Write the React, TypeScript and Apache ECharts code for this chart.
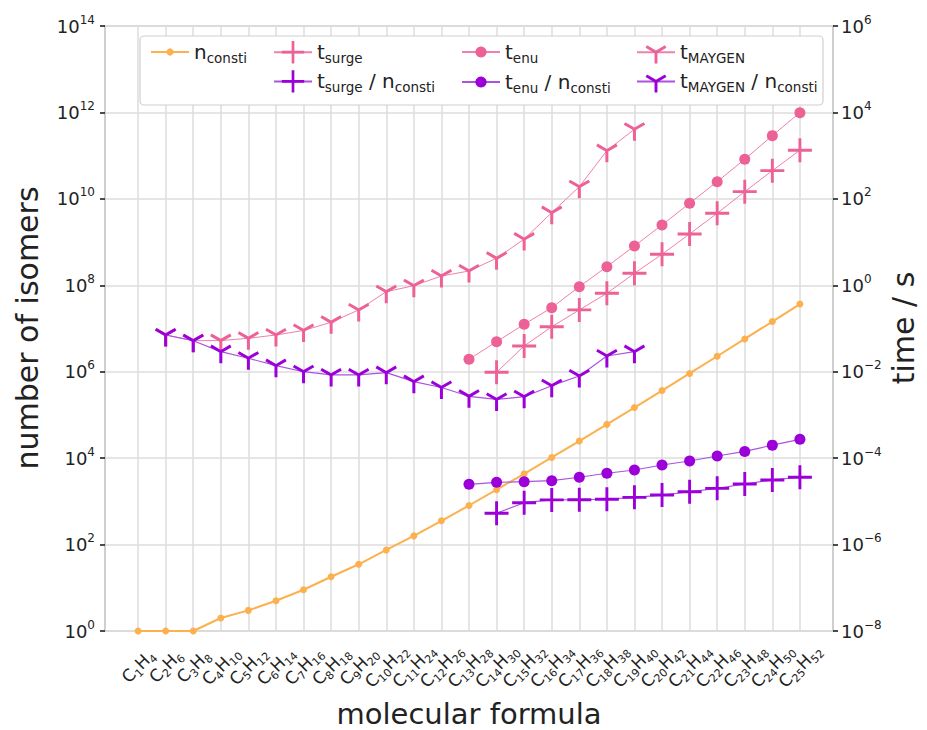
import React, { useEffect, useRef } from 'react';
import * as echarts from 'echarts';

// ---------- data ----------
const categories = ['C1H4', 'C2H6', 'C3H8', 'C4H10', 'C5H12', 'C6H14', 'C7H16', 'C8H18', 'C9H20', 'C10H22', 'C11H24', 'C12H26', 'C13H28', 'C14H30', 'C15H32', 'C16H34', 'C17H36', 'C18H38', 'C19H40', 'C20H42', 'C21H44', 'C22H46', 'C23H48', 'C24H50', 'C25H52'];

// number of constitutional isomers (left axis)
const nConsti = [1, 1, 1, 2, 3, 5, 9, 18, 35, 75, 159, 355, 802, 1858, 4347, 10359, 24894, 60523, 148284, 366319, 910726, 2278658, 5731580, 14490245, 36797588];

// times in seconds (right axis)
const tSurge = [null, null, null, null, null, null, null, null, null, null, null, null, null, 0.0097, 0.0394, 0.11, 0.269, 0.653, 1.9, 5.22, 15.4, 46.4, 147, 450, 1334];
const tSurgePerN = [null, null, null, null, null, null, null, null, null, null, null, null, null, 5.3e-6, 9.31e-6, 1.08e-5, 1.09e-5, 1.12e-5, 1.24e-5, 1.4e-5, 1.67e-5, 2.0e-5, 2.52e-5, 3.13e-5, 3.61e-5];
const tEnu = [null, null, null, null, null, null, null, null, null, null, null, null, 0.0194, 0.0495, 0.125, 0.303, 0.929, 2.7, 8.13, 24.9, 79.1, 250, 826, 2904, 9886];
const tEnuPerN = [null, null, null, null, null, null, null, null, null, null, null, null, 2.48e-5, 2.76e-5, 2.85e-5, 3.01e-5, 3.61e-5, 4.47e-5, 5.32e-5, 6.95e-5, 8.59e-5, 1.12e-4, 1.43e-4, 2.0e-4, 2.73e-4];
const tMaygen = [null, 0.0708, 0.0522, 0.0525, 0.0594, 0.0708, 0.09, 0.139, 0.269, 0.711, 0.979, 1.64, 2.14, 4.22, 11.7, 48.0, 191, 1306, 4083, null, null, null, null, null, null];
const tMaygenPerN = [null, 0.0708, 0.0522, 0.0291, 0.0205, 0.0138, 0.01, 0.00841, 0.00841, 0.00951, 0.00589, 0.00432, 0.0027, 0.00228, 0.00264, 0.00475, 0.00796, 0.0231, 0.0291, null, null, null, null, null, null];

// axis ranges (powers of ten)
const leftRange = [1, 1e14];
const rightRange = [1e-8, 1e6];

// ---------- styling ----------
const FONT = 'DejaVu Sans';
const TXT = '#222222';
const ORANGE = '#fdb04e';
const PINK = '#ec6196';
const PINK_LINE = '#f080aa';
const PURPLE = '#9c00d8';
const PURPLE_LINE = '#ab52e0';

const PLUS = 'path://M44,0H56V44H100V56H56V100H44V56H0V44H44Z';
const TRI = 'path://M43.5,100L56.5,100L56.5,53.75L96.55,30.63L90.05,19.37L50,42.49L9.95,19.37L3.45,30.63L43.5,53.75Z M0,0L0.1,0L0,0.1Z M100,100L99.9,100L100,99.9Z';

const legendText: Record<string, string> = {
  'n_consti': '{m|n}{s|consti}',
  't_surge': '{m|t}{s|surge}',
  't_surge / n_consti': '{m|t}{s|surge}{m| / n}{s|consti}',
  't_enu': '{m|t}{s|enu}',
  't_enu / n_consti': '{m|t}{s|enu}{m| / n}{s|consti}',
  't_MAYGEN': '{m|t}{s|MAYGEN}',
  't_MAYGEN / n_consti': '{m|t}{s|MAYGEN}{m| / n}{s|consti}',
};

const expLabel = (v: number) => {
  const e = Math.round(Math.log10(v));
  return `{b|10}{e|${e < 0 ? '\u2212' + -e : e}}`;
};

const supRich = {
  b: { fontSize: 18, lineHeight: 25, fontFamily: FONT, color: TXT },
  e: { fontSize: 12, verticalAlign: 'top', fontFamily: FONT, color: TXT },
};

const subRich = {
  m: { fontSize: 17, lineHeight: 23, fontFamily: FONT, color: TXT },
  s: { fontSize: 11, verticalAlign: 'bottom', fontFamily: FONT, color: TXT },
};

const legendRich = {
  m: { fontSize: 20, lineHeight: 26, fontFamily: FONT, color: TXT },
  s: { fontSize: 13.5, verticalAlign: 'bottom', fontFamily: FONT, color: TXT },
};

export default function App() {
  const ref = useRef<HTMLDivElement>(null);

  useEffect(() => {
    if (!ref.current) return;
    const chart = echarts.init(ref.current, undefined, { renderer: 'svg' });

    const plotLeft = 105;
    const plotWidth = 728;
    const plotTop = 26;
    const plotHeight = 605;
    const unit = plotWidth / 26.4; // matplotlib 5% x-margin
    const innerLeft = plotLeft + 1.2 * unit;
    const innerWidth = 24 * unit;

    const mk = (name: string, data: (number | null)[], yAxisIndex: number, color: string, lineColor: string, lineWidth: number, symbol: string, symbolSize: number) => ({
      type: 'line',
      name,
      data,
      xAxisIndex: 1,
      yAxisIndex,
      symbol,
      symbolSize,
      showSymbol: true,
      connectNulls: false,
      itemStyle: { color },
      lineStyle: { color: lineColor, width: lineWidth },
      emphasis: { disabled: true },
    });

    const legendBase = {
      orient: 'vertical',
      padding: 0,
      itemWidth: 38,
      selectedMode: false,
      lineStyle: { width: 2 },
      formatter: (n: string) => legendText[n] || n,
      textStyle: { fontFamily: FONT, color: TXT, rich: legendRich },
    };

    chart.setOption({
      animation: false,
      backgroundColor: '#ffffff',
      grid: [
        { left: plotLeft, top: plotTop, width: plotWidth, height: plotHeight, show: true, borderColor: '#cccccc', borderWidth: 1.5, backgroundColor: 'transparent' },
        { left: innerLeft, top: plotTop, width: innerWidth, height: plotHeight },
      ],
      xAxis: [
        { gridIndex: 0, type: 'value', min: 0, max: 1, show: false },
        {
          gridIndex: 1,
          type: 'category',
          data: categories,
          boundaryGap: false,
          axisLine: { show: false },
          axisTick: { show: false, interval: 0 },
          splitLine: { show: true, interval: 0, lineStyle: { color: '#dddddd', width: 1.5 } },
          axisLabel: {
            interval: 0,
            rotate: 45,
            margin: 35,
            align: 'center',
            verticalAlign: 'middle',
            formatter: (s: string) => s.replace(/([A-Z])(\d+)/g, '{m|$1}{s|$2}'),
            rich: subRich,
          },
        },
      ],
      yAxis: [
        {
          gridIndex: 0,
          type: 'log',
          logBase: 10,
          min: leftRange[0],
          max: leftRange[1],
          interval: 2,
          splitNumber: 7,
          position: 'left',
          axisLine: { show: true, lineStyle: { color: '#cccccc', width: 1.5 } },
          axisTick: { show: true, length: 5, lineStyle: { color: '#111111', width: 1.5 } },
          splitLine: { show: true, lineStyle: { color: '#dddddd', width: 1.5 } },
          minorTick: { show: false },
          axisLabel: { margin: 10, formatter: expLabel, rich: supRich },
        },
        {
          gridIndex: 0,
          type: 'log',
          logBase: 10,
          min: rightRange[0],
          max: rightRange[1],
          interval: 2,
          splitNumber: 7,
          position: 'right',
          axisLine: { show: true, lineStyle: { color: '#cccccc', width: 1.5 } },
          axisTick: { show: true, length: 5, lineStyle: { color: '#111111', width: 1.5 } },
          splitLine: { show: false },
          axisLabel: { margin: 8, formatter: expLabel, rich: supRich },
        },
        { gridIndex: 1, type: 'log', logBase: 10, min: leftRange[0], max: leftRange[1], show: false, splitLine: { show: false } },
        { gridIndex: 1, type: 'log', logBase: 10, min: rightRange[0], max: rightRange[1], show: false, splitLine: { show: false } },
      ],
      legend: [
        { ...legendBase, data: ['n_consti'], left: 150, top: 42, itemHeight: 9, itemGap: 7 },
        { ...legendBase, data: ['t_surge', 't_surge / n_consti'], left: 273, top: 41, itemHeight: 28, itemGap: 5 },
        { ...legendBase, data: ['t_enu', 't_enu / n_consti'], left: 461, top: 42, itemHeight: 14, itemGap: 7 },
        { ...legendBase, data: ['t_MAYGEN', 't_MAYGEN / n_consti'], left: 636, top: 41, itemHeight: 28, itemGap: 5 },
      ],
      graphic: [
        { type: 'rect', z: 3, shape: { x: 140, y: 36, width: 683, height: 69, r: 4 }, style: { fill: '#ffffff', stroke: '#cfcfcf', lineWidth: 1.2 } },
        { type: 'text', x: 27, y: 328, rotation: Math.PI / 2, style: { text: 'number of isomers', fontSize: 30, fontFamily: FONT, fill: TXT, align: 'center', verticalAlign: 'middle' } },
        { type: 'text', x: 469, y: 714, style: { text: 'molecular formula', fontSize: 29, fontFamily: FONT, fill: TXT, align: 'center', verticalAlign: 'middle' } },
        { type: 'text', x: 903, y: 328, rotation: Math.PI / 2, style: { text: 'time / s', fontSize: 30, fontFamily: FONT, fill: TXT, align: 'center', verticalAlign: 'middle' } },
      ],
      series: [
        mk('n_consti', nConsti, 2, ORANGE, ORANGE, 2, 'circle', 7),
        mk('t_surge', tSurge, 3, PINK, PINK_LINE, 1, PLUS, 24),
        mk('t_surge / n_consti', tSurgePerN, 3, PURPLE, PURPLE_LINE, 1.2, PLUS, 24),
        mk('t_enu', tEnu, 3, PINK, PINK_LINE, 1, 'circle', 11),
        mk('t_enu / n_consti', tEnuPerN, 3, PURPLE, PURPLE_LINE, 1.2, 'circle', 11),
        mk('t_MAYGEN', tMaygen, 3, PINK, PINK_LINE, 1, TRI, 23),
        mk('t_MAYGEN / n_consti', tMaygenPerN, 3, PURPLE, PURPLE_LINE, 1.2, TRI, 23),
      ],
    });

    return () => chart.dispose();
  }, []);

  return <div ref={ref} style={{ position: 'fixed', left: 0, top: 0, width: 927, height: 730, background: '#fff' }} />;
}
